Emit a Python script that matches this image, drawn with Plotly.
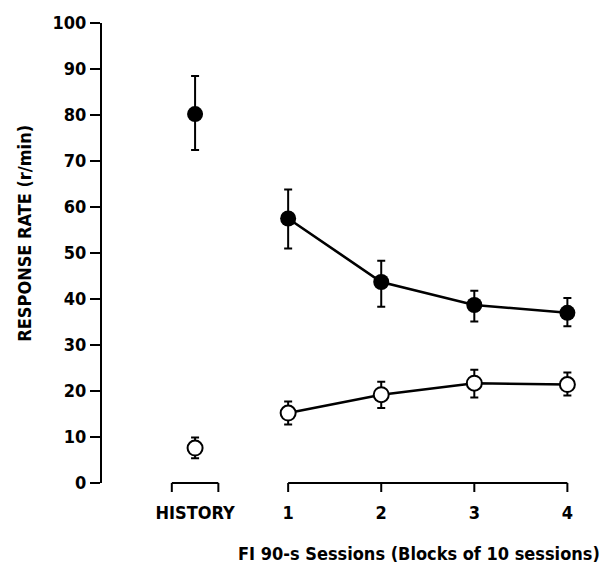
import plotly.graph_objects as go

# ---- data ----
categories = ["HISTORY", "1", "2", "3", "4"]
positions = [0, 1, 2, 3, 4]

filled_mean = [80.2, 57.5, 43.7, 38.7, 37.0]
filled_upper = [88.5, 63.8, 48.3, 41.8, 40.2]
filled_lower = [72.4, 51.0, 38.3, 35.1, 34.1]

open_mean = [7.6, 15.2, 19.2, 21.7, 21.4]
open_upper = [9.9, 17.7, 22.0, 24.6, 24.0]
open_lower = [5.4, 12.7, 16.3, 18.6, 19.0]

y_ticks = [0, 10, 20, 30, 40, 50, 60, 70, 80, 90, 100]

# axis segments (data units on x)
history_bracket = [-0.25, 0.25]
session_segment = [1, 4]
session_ticks = [1, 2, 3, 4]

FONT = "DejaVu Sans Condensed, DejaVu Sans, Liberation Sans Narrow, sans-serif"


def err(mean, upper, lower):
    plus = [u - m for u, m in zip(upper, mean)]
    minus = [m - l for m, l in zip(mean, lower)]
    return plus, minus


fp, fm = err(filled_mean, filled_upper, filled_lower)
op, om = err(open_mean, open_upper, open_lower)

fig = go.Figure()


def add_series(xs, ys, plus, minus, filled, with_line):
    fig.add_trace(go.Scatter(
        x=xs, y=ys,
        mode="lines+markers" if with_line else "markers",
        line=dict(color="black", width=2.6),
        marker=dict(
            size=16 if filled else 15,
            color="black" if filled else "white",
            line=dict(color="black", width=0 if filled else 2),
        ),
        error_y=dict(type="data", symmetric=False, array=plus, arrayminus=minus,
                     color="black", thickness=2, width=4),
        showlegend=False,
        cliponaxis=False,
    ))


# history points (unconnected)
add_series(positions[:1], open_mean[:1], op[:1], om[:1], False, False)
add_series(positions[:1], filled_mean[:1], fp[:1], fm[:1], True, False)
# session blocks (connected)
add_series(positions[1:], open_mean[1:], op[1:], om[1:], False, True)
add_series(positions[1:], filled_mean[1:], fp[1:], fm[1:], True, True)

shapes = []
line_style = dict(color="black", width=2)
for seg in (history_bracket, session_segment):
    shapes.append(dict(type="line", xref="x", yref="paper", x0=seg[0], x1=seg[1],
                       y0=0, y1=0, line=line_style))
for tx in history_bracket + session_ticks:
    shapes.append(dict(type="line", xref="x", yref="paper", ysizemode="pixel",
                       yanchor=0, x0=tx, x1=tx, y0=0, y1=-9, line=line_style))

fig.update_layout(
    width=609, height=571,
    margin=dict(l=102, r=23, t=20, b=88),
    paper_bgcolor="white", plot_bgcolor="white",
    font=dict(family=FONT, color="black", size=18),
    shapes=shapes,
    xaxis=dict(
        range=[-1, 4.2],
        tickmode="array", tickvals=positions, ticktext=categories,
        ticks="outside", ticklen=13, tickcolor="rgba(0,0,0,0)",
        showline=False, showgrid=False, zeroline=False,
        tickfont=dict(family=FONT, size=18, color="black", weight="bold"),
    ),
    yaxis=dict(
        range=[0, 100],
        tickmode="array", tickvals=y_ticks,
        ticks="outside", ticklen=10, tickwidth=2, tickcolor="black",
        showline=True, linewidth=2, linecolor="black",
        showgrid=False, zeroline=False,
        tickfont=dict(family=FONT, size=18, color="black", weight="bold"),
    ),
    annotations=[
        dict(text="RESPONSE RATE (r/min)", xref="paper", yref="paper",
             x=0, y=0.542, xshift=-77, xanchor="center", yanchor="middle",
             textangle=-90, showarrow=False,
             font=dict(family=FONT, size=18, color="black", weight="bold")),
        dict(text="FI 90-s Sessions (Blocks of 10 sessions)", xref="paper", yref="paper",
             x=1, xshift=16, y=0, yshift=-70, xanchor="right", yanchor="middle",
             showarrow=False,
             font=dict(family=FONT, size=18, color="black", weight="bold")),
    ],
)

fig.write_html("out.html")
